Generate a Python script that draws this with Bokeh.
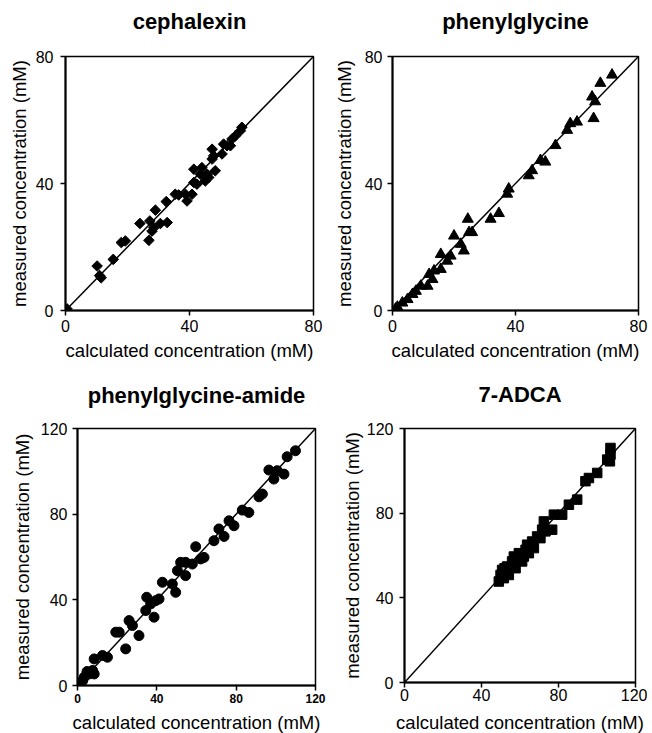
from bokeh.plotting import figure
from bokeh.layouts import row, column
from bokeh.models import Range1d, FixedTicker, Title
from bokeh.embed import file_html
from bokeh.resources import INLINE

# ---------------- data ----------------
ceph_calc = [0.5, 10.2, 11.5, 11.0, 15.4, 18.0, 19.3, 24.0, 26.9, 27.2, 27.9, 29.0, 28.5, 30.6,
             32.8, 32.5, 35.4, 36.5, 38.7, 39.2, 40.8, 41.4, 41.4, 42.4, 43.5, 44.0, 45.1, 45.7,
             46.2, 47.3, 47.3, 47.8, 48.3, 50.5, 51.0, 52.1, 53.2, 53.7, 54.8, 56.4, 56.9]
ceph_meas = [0.5, 14.0, 10.3, 11.0, 16.1, 21.4, 21.9, 27.4, 22.1, 28.2, 25.0, 31.6, 26.1, 27.4,
             27.7, 34.3, 36.6, 36.4, 36.6, 34.5, 36.6, 40.3, 44.5, 39.8, 42.9, 45.0, 40.8, 42.9,
             41.9, 47.7, 50.8, 48.7, 44.0, 49.3, 52.4, 51.9, 51.9, 54.0, 55.0, 56.6, 57.7]

pg_calc = [1.0, 1.6, 3.2, 4.9, 6.5, 7.6, 9.2, 11.4, 11.9, 13.0, 13.5, 15.7, 15.7, 17.8, 18.9,
           20.0, 22.2, 23.2, 24.5, 24.9, 25.9, 31.9, 34.6, 37.3, 37.8, 44.3, 45.4, 48.1, 49.7,
           53.0, 56.8, 57.8, 60.0, 64.9, 65.4, 65.9, 67.6, 71.4]
pg_meas = [0.5, 1.1, 2.4, 3.5, 5.1, 6.1, 7.7, 7.7, 11.4, 9.8, 12.5, 13.0, 17.7, 15.6, 17.2,
           23.5, 20.9, 18.8, 28.8, 24.6, 24.6, 28.8, 30.6, 36.7, 38.3, 42.5, 44.1, 47.3, 46.8,
           52.0, 56.8, 58.9, 59.4, 67.3, 60.5, 65.8, 71.6, 74.2]

pga_calc = [1.7, 3.4, 5.9, 7.6, 8.4, 8.4, 12.6, 15.1, 19.3, 21.0, 24.3, 26.0, 27.7, 31.0, 34.4,
            34.9, 36.9, 38.6, 39.4, 41.1, 42.8, 47.8, 49.5, 50.4, 52.0, 54.5, 54.5, 57.9, 59.6,
            62.1, 63.8, 68.8, 71.3, 73.9, 76.4, 78.9, 83.1, 86.4, 91.5, 93.2, 96.5, 99.0, 100.7,
            104.1, 105.7, 109.9, 0.8, 2.6, 4.8]
pga_meas = [1.6, 3.9, 5.4, 7.0, 5.4, 12.4, 14.0, 13.2, 24.9, 24.9, 17.1, 30.3, 28.0, 23.3, 35.0,
            41.2, 38.1, 31.9, 39.6, 40.4, 48.2, 47.4, 43.5, 53.6, 57.5, 51.3, 57.5, 56.7, 64.8,
            59.1, 59.8, 67.6, 73.1, 69.6, 76.9, 74.6, 81.9, 80.8, 88.1, 89.4, 100.6, 96.4, 100.3,
            98.7, 106.8, 109.6, 0.5, 2.2, 6.5]

adca_calc = [49.0, 49.9, 50.7, 51.6, 52.0, 53.3, 54.2, 55.9, 56.8, 57.7, 58.5, 59.4, 61.1, 62.0,
             62.9, 63.7, 64.6, 66.3, 67.2, 68.9, 70.6, 71.5, 72.4, 73.2, 76.7, 77.6, 81.9, 85.4,
             89.7, 94.0, 95.8, 100.1, 105.3, 107.0, 107.0, 106.7]
adca_meas = [47.7, 50.8, 53.2, 49.3, 54.0, 54.8, 50.8, 57.2, 59.5, 54.0, 58.6, 61.1, 57.2, 59.5,
             62.7, 65.1, 61.1, 66.6, 63.5, 69.0, 68.2, 72.2, 76.1, 71.4, 72.2, 79.3, 79.3, 84.0,
             86.4, 95.1, 96.6, 99.0, 105.3, 110.8, 107.7, 104.5]

ticks_80 = [0, 40, 80]
ticks_120 = [0, 40, 80, 120]
xlabel = "calculated concentration (mM)"
ylabel = "measured concentration (mM)"
FONT = "Liberation Sans"


def panel(title, xs, ys, marker, msize, ticks, fw, fh, bl, br, bt, bb, spacer_px,
          angle=0.0, ytick_standoff=6, ylab_standoff=3, xtick_standoff=4, xlab_standoff=5,
          xtick_bold=False):
    vmax = ticks[-1]
    p = figure(frame_width=fw, frame_height=fh, output_backend="svg", toolbar_location=None,
               x_range=Range1d(0, vmax), y_range=Range1d(0, vmax),
               min_border_left=bl, min_border_right=br, min_border_top=bt, min_border_bottom=bb,
               background_fill_color="white", border_fill_color="white")
    p.grid.visible = False
    p.outline_line_color = "black"
    p.outline_line_width = 1.5
    p.outline_line_alpha = 1.0

    diag = [ticks[0], ticks[-1]]
    p.line(diag, diag, line_color="black", line_width=1.5)
    p.scatter(xs, ys, marker=marker, size=msize, fill_color="black", line_color="black",
              angle=angle)

    for ax in (p.xaxis, p.yaxis):
        ax.ticker = FixedTicker(ticks=ticks)
        ax.minor_tick_line_color = None
        ax.major_tick_in = 0
        ax.major_tick_out = 5
        ax.axis_line_width = 2
        ax.major_tick_line_width = 1.5
        ax.major_label_text_font = FONT
        ax.major_label_text_font_size = "16px"
        ax.major_label_text_color = "black"
        ax.axis_label_text_font = FONT
        ax.axis_label_text_font_size = "18.5px"
        ax.axis_label_text_font_style = "normal"
        ax.axis_label_text_color = "black"
    p.xaxis.axis_label = xlabel
    p.yaxis.axis_label = ylabel
    p.xaxis.major_label_standoff = xtick_standoff
    p.xaxis.axis_label_standoff = xlab_standoff
    p.yaxis.major_label_standoff = ytick_standoff
    p.yaxis.axis_label_standoff = ylab_standoff
    if xtick_bold:
        p.xaxis.major_label_text_font_style = "bold"
        p.xaxis.major_label_text_font_size = "12px"

    # blank spacer next to the frame, then the bold panel title above it
    p.add_layout(Title(text=" ", text_font=FONT, text_font_size=f"{spacer_px}px",
                       standoff=0, align="center"), "above")
    p.add_layout(Title(text=title, text_font=FONT, text_font_size="22px",
                       text_font_style="bold", text_color="black", standoff=0,
                       align="center"), "above")
    return p


p1 = panel("cephalexin", ceph_calc, ceph_meas, "square", 7.5, ticks_80,
           248, 254, 65, 15, 56, 60, 19, angle=0.785398,
           ytick_standoff=7, ylab_standoff=3)
p2 = panel("phenylglycine", pg_calc, pg_meas, "triangle", 11, ticks_80,
           246, 254, 64, 12, 56, 60, 19,
           ytick_standoff=5, ylab_standoff=7)
p3 = panel("phenylglycine-amide", pga_calc, pga_meas, "circle", 10, ticks_120,
           238, 257, 77, 13, 58, 47, 17,
           ytick_standoff=5, ylab_standoff=5, xtick_standoff=3, xlab_standoff=6,
           xtick_bold=True)
p4 = panel("7-ADCA", adca_calc, adca_meas, "square", 9.5, ticks_120,
           231, 254, 76, 12, 57, 52, 18,
           ytick_standoff=6, ylab_standoff=1, xtick_standoff=1, xlab_standoff=8)

layout = column(row(p1, p2), row(p3, p4))

html = file_html(layout, INLINE)
open("out.html", "w").write(html)
